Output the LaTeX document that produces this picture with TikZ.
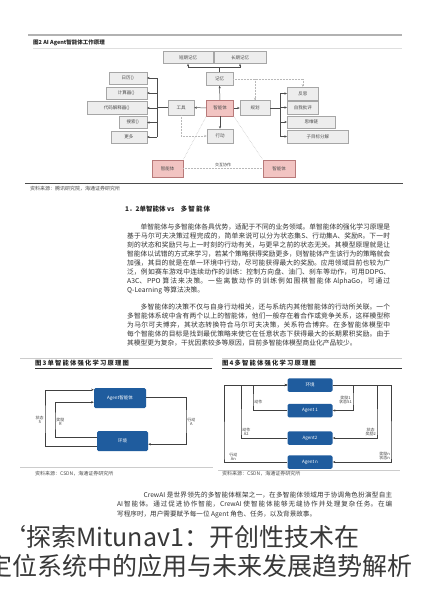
\documentclass[tikz,border=0pt]{standalone}
\usepackage{fontspec}
\setmainfont{Noto Sans CJK SC}
\usetikzlibrary{arrows.meta, calc, positioning}
\XeTeXlinebreaklocale "zh"
\XeTeXlinebreakskip = 0pt plus 2pt minus 0.3pt

\definecolor{boxgray}{HTML}{EDEDED}
\definecolor{boxpink}{HTML}{F2C4C2}
\definecolor{agentblue}{HTML}{1F5C9E}

\begin{document}
\begin{tikzpicture}[x=1pt, y=-1pt, >={Stealth[length=2.6pt,width=2.2pt]},
	gbox/.style={draw=gray!70, fill=boxgray, line width=0.5pt, inner sep=0pt,
		minimum height=12pt, text=black!70, font=\fontsize{4.5}{5}\selectfont},
	pbox/.style={gbox, draw=red!30!gray!80, fill=boxpink},
	bbox/.style={fill=agentblue, rounded corners=1.5pt, inner sep=0pt, text=white,
		minimum width=45pt, minimum height=13.5pt, font=\fontsize{4.5}{5}\selectfont},
	link/.style={->, line width=0.5pt, gray!60!black},
	faint/.style={->, densely dotted, line width=0.5pt, gray!55},
	loopline/.style={->, line width=0.55pt, black!75},
	lbl/.style={inner sep=1pt, align=center, text=black!75, font=\fontsize{4}{4.6}\selectfont},
	figcap/.style={anchor=west, inner sep=0pt, text=black!85,
		font=\bfseries\fontsize{6.3}{7}\selectfont\addfontfeature{LetterSpace=19}},
	src/.style={anchor=west, inner sep=0pt, text=black!70, font=\fontsize{5}{6}\selectfont},
	para/.style={anchor=north west, inner sep=0pt, align=justify, text=black!80,
		font=\fontsize{6.75}{9}\selectfont},
	rule/.style={gray!40, line width=0.4pt}]
	
	\useasboundingbox[fill=white] (0,0) rectangle (423,600);
	
	% --- FIGURE 2: AGENT WORKING PRINCIPLE ---
	\draw[gray!60, line width=1.2pt] (28,35) -- (402,35);
	\node[anchor=west, inner sep=0pt, text=black!85, font=\bfseries\fontsize{5.5}{6}\selectfont] (cap2) at (33,43) {图2 AI Agent智能体工作原理};
	\draw[gray!25, line width=0.4pt] (33,48) -- (402,48);
	
	% memory
	\node[gbox, minimum width=50pt] (stm) at (188,57.5) {短期记忆};
	\node[gbox, minimum width=52pt] (ltm) at (240,57.5) {长期记忆};
	\node[gbox, minimum width=27pt, minimum height=13pt] (mem) at (219.5,79) {记忆};
	
	% core row
	\node[pbox, minimum width=27pt, minimum height=16pt] (agent) at (220,108) {智能体};
	\node[gbox, minimum width=26pt, minimum height=15pt] (tool) at (181,107.5) {工具};
	\node[gbox, minimum width=30pt, minimum height=15pt] (plan) at (255,108) {规划};
	\node[gbox, minimum width=26pt, minimum height=14pt] (act) at (220,136) {行动};
	
	% tools
	\node[gbox, anchor=east, minimum width=38pt] (cal) at (147,78) {日历()};
	\node[gbox, anchor=east, minimum width=41pt] (calc) at (147,93) {计算器()};
	\node[gbox, anchor=east, minimum width=60pt, minimum height=13pt] (code) at (147,108) {代码解释器()};
	\node[gbox, anchor=east, minimum width=28pt] (srch) at (147,122.5) {搜索()};
	\node[gbox, anchor=east, minimum width=36pt] (more) at (147,137) {更多};
	
	% planning
	\node[gbox, anchor=west, minimum width=31pt, minimum height=13pt] (refl) at (287,93.5) {反思};
	\node[gbox, anchor=west, minimum width=31pt, minimum height=13pt] (crit) at (287,107.5) {自我批评};
	\node[gbox, anchor=west, minimum width=48pt] (cot) at (287,122) {思维链};
	\node[gbox, anchor=west, minimum width=61pt, minimum height=13pt] (sub) at (287,136.5) {子目标分解};
	
	% other agents
	\node[pbox, minimum width=31pt, minimum height=17pt] (agL) at (167.5,168.5) {智能体};
	\node[pbox, minimum width=32pt, minimum height=17pt] (agR) at (279,168.5) {智能体};
	
	\coordinate (mfork) at (219.5,67);
	\draw[link, -] (mem) -- (mfork);
	\draw[link] (mfork) -| (stm);
	\draw[link] (mfork) -| (ltm);
	
	\draw[link] (agent) -- (mem);
	\draw[link] (agent) -- (tool);
	\draw[link] (agent) -- (plan);
	\draw[link] (agent) -- (act);
	
	\coordinate (tbus) at (157,107.5);
	\draw[link, -] (tool) -- (tbus);
	\draw[link, -] (tbus |- cal) -- (tbus |- more);
	\foreach \t in {cal,calc,code,srch,more}
		\draw[link] (tbus |- \t) -- (\t);
	
	\coordinate (pbus) at (280,108);
	\draw[link, -] (plan) -- (pbus);
	\draw[link, -] (pbus |- refl) -- (pbus |- sub);
	\foreach \t in {refl,crit,cot,sub}
		\draw[link] (pbus |- \t) -- (\t);
	
	\draw[faint, -] (mem.east) -- (refl |- mem);
	\draw[faint] (refl |- mem) -- (refl);
	\draw[faint] (plan |- mem) -- (plan);
	\draw[faint] (tool) |- (act);
	
	\draw[faint, -] (agent.south west) -- (agL.north east);
	\draw[faint, -] (agent.south east) -- (agR.north west);
	\draw[faint, -] (agL) -- node[lbl, above] {交互协作} (agR);
	
	\draw[black!70, line width=1pt] (25,183) -- (403,183);
	\node[src] at (30,189) {资料来源：腾讯研究院，海通证券研究所};
	
	% --- TEXT: SINGLE VS MULTI AGENT ---
	\node[anchor=west, inner sep=0pt, text=black!85, font=\bfseries\fontsize{6.5}{7}\selectfont] (sec) at (125,209)
		{1．2单智能体 vs\quad 多\,智\,能\,体};
	
	\node[para, text width=263pt] (p1) at (127,223.5) {\hspace{2em}单智能体与多智能体各具优势，适配于不同的业务领域。单智能体的强化学习原理是\linebreak 基于马尔可夫决策过程完成的，简单来说可以分为状态集S、行动集A、奖励R。下一时\linebreak 刻的状态和奖励只与上一时刻的行动有关，与更早之前的状态无关。其模型原理就是让\linebreak 智能体以试错的方式来学习，若某个策略获得奖励更多，则智能体产生该行为的策略就会\linebreak 加强，其目的就是在单一环境中行动，尽可能获得最大的奖励。应用领域目前也较为广\linebreak 泛，例如赛车游戏中连续动作的训练：控制方向盘、油门、刹车等动作，可用DDPG、\linebreak A3C、PPO 算法来决策。一些离散动作的训练例如围棋智能体 AlphaGo，可通过\linebreak Q-Learning 等算法决策。};
	
	\node[para, text width=263pt] (p2) at (127,303.5) {\hspace{2em}多智能体的决策不仅与自身行动相关，还与系统内其他智能体的行动所关联。一个\linebreak 多智能体系统中含有两个以上的智能体，他们一般存在着合作或竞争关系，这样模型称\linebreak 为马尔可夫博弈，其状态转换符合马尔可夫决策，关系符合博弈。在多智能体模型中\linebreak 每个智能体的目标是找到最优策略来使它在任意状态下获得最大的长期累积奖励。由于\linebreak 其模型更为复杂，干扰因素较多等原因，目前多智能体模型商业化产品较少。};
	
	% --- FIGURE 3: SINGLE AGENT RL ---
	\draw[rule] (20,358) -- (213,358);
	\node[figcap] (cap3) at (35,363) {图3单智能体强化学习原理图};
	\draw[black!80, line width=1.2pt] (35,368.5) -- (212,368.5);
	
	\node[bbox, minimum width=52pt, minimum height=20pt] (ag3) at (120,398) {Agent智能体};
	\node[bbox, minimum width=51pt, minimum height=20pt] (env3) at (122.5,441) {环境};
	
	\draw[loopline] ($(env3.south west)+(0,-5)$) -| (45,420) node[lbl, left] {状态\\S}
		|- ($(ag3.north west)+(0,2)$);
	\draw[loopline] ($(env3.north west)+(0,6)$) -| (55,422) node[lbl, right] {奖励\\R}
		|- ($(ag3.south west)+(0,-6)$);
	\draw[loopline] ($(ag3.east)+(0,-1)$) -| (186,422) node[lbl, right] {行动\\A}
		|- ($(env3.south east)+(0,-7)$);
	
	\draw[rule] (20,467.5) -- (213,467.5);
	\node[src] at (35,474) {资料来源：CSDN，海通证券研究所};
	
	% --- FIGURE 4: MULTI AGENT RL ---
	\draw[rule] (222,358) -- (402,358);
	\node[figcap] (cap4) at (222,363) {图4多智能体强化学习原理图};
	\draw[black!80, line width=1.2pt] (222,368.5) -- (402,368.5);
	
	\node[bbox] (env4) at (310,385) {环境};
	\node[bbox] (ag1) at (310,410.5) {Agent 1};
	\node[bbox] (ag2) at (310,438) {Agent2};
	\node[bbox] (agn) at (310,462) {Agent n};
	
	\draw[loopline] (ag1) -| (253,402) node[lbl, right] {动作} |- (env4);
	\draw[loopline] (ag2) -| (241,432) node[lbl, right] {动作\\A2} |- (env4);
	\draw[loopline] (agn) -| (224,457) node[lbl, right, xshift=4pt] {行动\\An} |- (env4);
	
	\draw[loopline] (env4) -| (353,400) node[lbl, left] {奖励1\\状态S1} |- (ag1);
	\draw[loopline] (env4) -| (377,432) node[lbl, left] {状态\\奖励2} |- (ag2);
	\draw[loopline] (env4) -| (391,456) node[lbl, left] {奖励n\\状态n} |- (agn);
	
	\draw[rule] (218,470) -- (400,470);
	\node[src] at (222,474) {资料来源：CSDN，海通证券研究所};
	
	% --- TEXT: CREWAI ---
	\node[para, text width=275pt, font=\fontsize{6.6}{9.5}\selectfont] (p3) at (117,491.5) {\hspace{4em}CrewAI 是世界领先的多智能体框架之一，在多智能体领域用于协调角色扮演型自主\linebreak AI智能体。通过促进协作智能，CrewAI 使智能体能够无缝协作并处理复杂任务。在编\linebreak 写程序时，用户需要赋予每一位 Agent 角色、任务，以及背景故事。};
	
	% --- OVERLAID HEADLINE ---
	\node[anchor=base west, inner sep=0pt, text=black!78, font=\fontsize{25}{30}\selectfont] (head1) at (1,546)
		{‘探索Mitunav1：开创性技术在};
	\node[anchor=base west, inner sep=0pt, text=black!78, font=\fontsize{25}{30}\selectfont] (head2) at (-13,575)
		{定位系统中的应用与未来发展趋势解析};
	
\end{tikzpicture}
\end{document}
